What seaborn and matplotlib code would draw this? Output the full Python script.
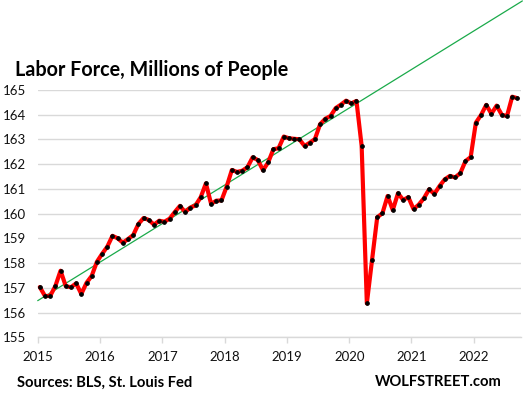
import pandas as pd
import numpy as np
import matplotlib
matplotlib.use("Agg")
import matplotlib.pyplot as plt
import seaborn as sns

# -----------------------------
# Data, millions
# -----------------------------

labor_2015 = [157.03, 156.67, 156.67, 157.07, 157.69, 157.07, 157.02, 157.18, 156.75, 157.20, 157.48, 158.05]
labor_2016 = [158.37, 158.66, 159.10, 159.00, 158.82, 158.97, 159.13, 159.58, 159.82, 159.74, 159.55, 159.71]
labor_2017 = [159.67, 159.79, 160.06, 160.31, 160.06, 160.24, 160.33, 160.66, 161.22, 160.39, 160.52, 160.53]
labor_2018 = [161.09, 161.76, 161.68, 161.73, 161.87, 162.27, 162.16, 161.75, 162.07, 162.60, 162.64, 163.11]
labor_2019 = [163.04, 163.02, 163.00, 162.73, 162.86, 163.01, 163.61, 163.83, 163.94, 164.26, 164.40, 164.56]
labor_2020 = [164.45, 164.55, 162.73, 156.37, 158.12, 159.85, 160.01, 160.71, 160.14, 160.82, 160.55, 160.66]
labor_2021 = [160.18, 160.36, 160.62, 160.98, 160.79, 161.11, 161.38, 161.52, 161.46, 161.63, 162.12, 162.28]
labor_2022 = [163.67, 163.98, 164.39, 164.03, 164.36, 163.99, 163.94, 164.72, 164.66]

# trend line end points (year, millions)
trend_years = [2015.0, 2022.78]
trend_values = [156.48, 168.59]

year_ticks = [2015, 2016, 2017, 2018, 2019, 2020, 2021, 2022]
y_ticks = list(range(155, 166))

values = (labor_2015 + labor_2016 + labor_2017 + labor_2018
          + labor_2019 + labor_2020 + labor_2021 + labor_2022)
months = pd.date_range("2015-01-01", periods=len(values), freq="MS")

df = pd.DataFrame({
    "Year": months.year + (months.month - 1 + 0.4) / 12,
    "LaborForce": values,
})

# -----------------------------
# Plot
# -----------------------------

sns.set_theme(style="white")
plt.rcParams["font.family"] = ["Lato", "DejaVu Sans"]

fig = plt.figure(figsize=(5.26, 3.98), dpi=100)
ax = fig.add_axes([0.0717, 0.1525, 0.9182, 0.6219])

sns.lineplot(x=trend_years, y=trend_values, ax=ax, color="#1aaa4a",
             linewidth=0.9, clip_on=False, zorder=3)
sns.lineplot(data=df, x="Year", y="LaborForce", ax=ax, color="#ff0000",
             linewidth=3.0, marker="o", markersize=2.6,
             markerfacecolor="black", markeredgecolor="black",
             clip_on=False, zorder=4)

ax.set_xlim(2015, 2022.753)
ax.set_ylim(155, 165)
ax.set_xticks(year_ticks)
ax.set_yticks(y_ticks)
ax.set_xticklabels([str(y) for y in year_ticks])
ax.set_xlabel("")
ax.set_ylabel("")

ax.grid(axis="y", color="#d9d9d9", linewidth=1.0)
ax.grid(axis="x", visible=False)
for side in ["top", "right", "left"]:
    ax.spines[side].set_visible(False)
ax.spines["bottom"].set_color("#d9d9d9")
ax.spines["bottom"].set_linewidth(1.0)

ax.tick_params(axis="x", bottom=True, length=4, width=1, color="#d9d9d9",
               pad=6, labelsize=9.5, labelcolor="#111111")
ax.tick_params(axis="y", left=False, length=0, pad=8.5, labelsize=9.5,
               labelcolor="#111111")

fig.text(15 / 526, 1 - 70 / 398, "Labor Force, Millions of People",
         fontsize=14.2, fontweight="bold", ha="left", va="center", color="black")
fig.text(17 / 526, 1 - 382.5 / 398, "Sources: BLS, St. Louis Fed",
         fontsize=10.6, fontweight="bold", ha="left", va="center", color="black")
fig.text(502 / 526, 1 - 382.5 / 398, "WOLFSTREET.com",
         fontsize=10.6, fontweight="bold", ha="right", va="center", color="black")

fig.savefig("out.png", dpi=100)
